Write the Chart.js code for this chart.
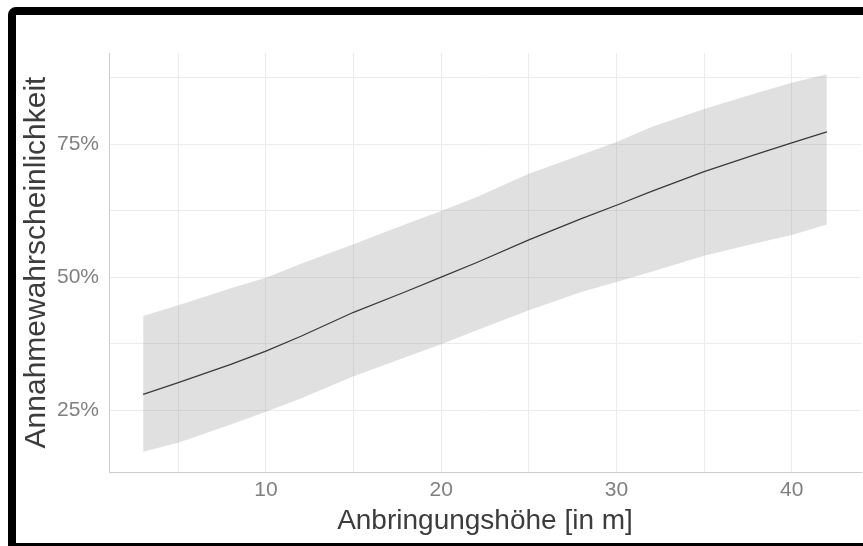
<!DOCTYPE html>
<html><head><meta charset="utf-8">
<script src="https://cdn.jsdelivr.net/npm/chart.js@4.4.1/dist/chart.umd.min.js"></script>
<style>
html,body{margin:0;padding:0;background:#fff;overflow:hidden}
#wrap{position:relative;width:863px;height:546px;overflow:hidden}
#c{position:absolute;left:0;top:0}
#frame{position:absolute;left:8px;top:7px;width:920px;height:544px;border:8px solid #000;border-top-left-radius:8px;box-sizing:border-box;pointer-events:none}
</style></head>
<body>
<div id="wrap"><canvas id="c" width="863" height="546"></canvas><div id="frame"></div></div>
<script>
const xValues     = [3, 5, 8, 10, 12, 15, 18, 20, 22, 25, 28, 30, 32, 35, 38, 40, 42];
const fitValues   = [0.280, 0.302, 0.336, 0.361, 0.389, 0.434, 0.473, 0.500, 0.527, 0.570, 0.610, 0.635, 0.661, 0.698, 0.731, 0.752, 0.773];
const upperValues = [0.427, 0.447, 0.479, 0.499, 0.525, 0.562, 0.600, 0.624, 0.650, 0.694, 0.730, 0.754, 0.782, 0.816, 0.846, 0.865, 0.881];
const lowerValues = [0.172, 0.189, 0.223, 0.247, 0.272, 0.314, 0.350, 0.374, 0.400, 0.438, 0.472, 0.491, 0.510, 0.540, 0.564, 0.579, 0.599];

const xTickValues = [10, 20, 30, 40];
const xTickLabels = ['10', '20', '30', '40'];
const xMinorTicks = [5, 15, 25, 35];
const yTickValues = [0.25, 0.5, 0.75];
const yTickLabels = ['25%', '50%', '75%'];
const yMinorTicks = [0.375, 0.625, 0.875];

const xTitle = 'Anbringungshöhe [in m]';
const yTitle = 'Annahmewahrscheinlichkeit';

const toPts = arr => xValues.map((x, i) => ({x: x, y: arr[i]}));
const labelFor = (vals, labels) => v => {
  const i = vals.findIndex(t => Math.abs(t - v) < 1e-9);
  return i >= 0 ? labels[i] : '';
};

new Chart(document.getElementById('c'), {
  type: 'line',
  data: {
    datasets: [
      {data: toPts(upperValues), borderWidth: 0, pointRadius: 0, fill: '+1',
       backgroundColor: 'rgba(153,153,153,0.30)', borderColor: 'rgba(0,0,0,0)', tension: 0},
      {data: toPts(lowerValues), borderWidth: 0, pointRadius: 0, fill: false,
       borderColor: 'rgba(0,0,0,0)', tension: 0},
      {data: toPts(fitValues), borderWidth: 1.3, pointRadius: 0, fill: false,
       borderColor: '#111111', tension: 0}
    ]
  },
  options: {
    responsive: false,
    animation: false,
    events: [],
    layout: {padding: {left: 16, top: 53, right: 2, bottom: 0}},
    plugins: {legend: {display: false}, tooltip: {enabled: false}},
    scales: {
      x: {
        type: 'linear', min: 1.05, max: 43.95,
        afterBuildTicks: s => { s.ticks = xMinorTicks.concat(xTickValues).sort((a,b)=>a-b).map(v => ({value: v})); },
        afterFit: s => { s.height = 74; },
        grid: {color: '#ebebeb', lineWidth: 1, drawTicks: false},
        border: {display: true, color: '#cccccc', width: 1},
        ticks: {padding: 6, color: '#808080', maxRotation: 0, autoSkip: false,
                font: {family: 'Liberation Sans, Arial', size: 21},
                callback: labelFor(xTickValues, xTickLabels)},
        title: {display: true, text: xTitle, color: '#3c3c3c',
                font: {family: 'Liberation Sans, Arial', size: 28, lineHeight: 1.2},
                padding: {top: 0, bottom: 8}}
      },
      y: {
        min: 0.134, max: 0.921,
        afterBuildTicks: s => { s.ticks = yTickValues.concat(yMinorTicks).sort((a,b)=>a-b).map(v => ({value: v})); },
        afterFit: s => { s.width = 93; },
        grid: {color: '#ebebeb', lineWidth: 1, drawTicks: false},
        border: {display: true, color: '#cccccc', width: 1},
        ticks: {padding: 10, color: '#808080', autoSkip: false,
                font: {family: 'Liberation Sans, Arial', size: 21},
                callback: labelFor(yTickValues, yTickLabels)},
        title: {display: true, text: yTitle, color: '#3c3c3c',
                font: {family: 'Liberation Sans, Arial', size: 30, lineHeight: 1.2},
                padding: {top: 3, bottom: 0}}
      }
    }
  }
});
</script>
</body></html>
